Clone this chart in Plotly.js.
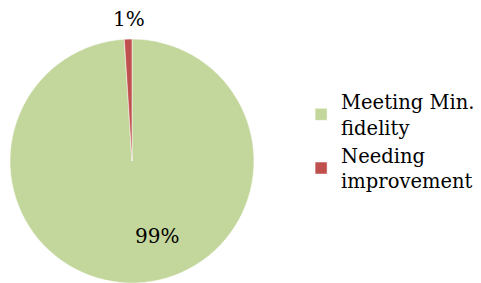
<!DOCTYPE html>
<html>
<head>
<meta charset="utf-8">
<script src="https://cdn.plot.ly/plotly-3.0.1.min.js"></script>
<style>html,body{margin:0;padding:0;background:#fff;}#chart{width:481px;height:283px;}</style>
</head>
<body>
<div id="chart"></div>
<script>
const categories = ["Meeting Min.<br>fidelity", "Needing<br>improvement"];
const values = [99, 1];
const colors = ["#C3D69B", "#C0504D"];
const labelPos = [[0.326, 0.166], [0.268, 0.934]];

const total = values.reduce((a, b) => a + b, 0);
const font = "DejaVu Serif";

const annotations = values.map((v, i) => ({
  x: labelPos[i][0], y: labelPos[i][1], xref: "paper", yref: "paper",
  xanchor: "center", yanchor: "middle",
  text: Math.round(v / total * 100) + "%", showarrow: false,
  font: {family: font, size: 20, color: "#000"}
}));

Plotly.newPlot("chart", [{
  type: "pie",
  labels: categories,
  values: values,
  sort: false,
  direction: "clockwise",
  rotation: 0,
  textinfo: "none",
  hoverinfo: "none",
  marker: {colors: colors, line: {color: "#fff", width: 0.5}},
  domain: {x: [0.0208, 0.528], y: [0, 0.862]}
}], {
  width: 481, height: 283,
  margin: {l: 0, r: 0, t: 0, b: 0, autoexpand: false},
  paper_bgcolor: "#fff",
  font: {family: font, size: 19.5, color: "#000"},
  showlegend: true,
  legend: {x: 0.626, y: 0.5, yanchor: "middle", xanchor: "left",
    font: {family: font, size: 19.5, color: "#000"}},
  annotations: annotations
}, {staticPlot: true});
</script>
</body>
</html>
